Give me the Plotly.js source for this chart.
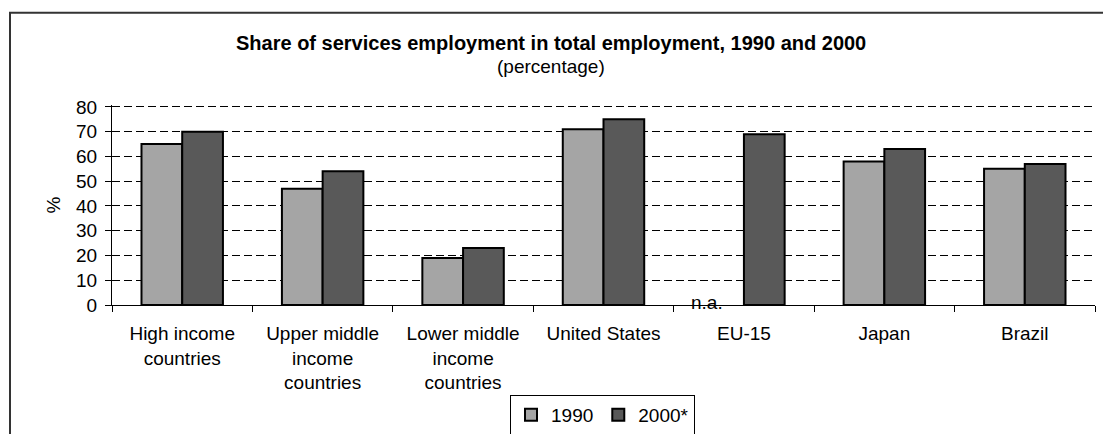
<!DOCTYPE html>
<html>
<head>
<meta charset="utf-8">
<script src="https://cdn.plot.ly/plotly-3.0.1.min.js"></script>
<style>html,body{margin:0;padding:0;background:#fff;}#chart{width:1103px;height:434px;}</style>
</head>
<body>
<div id="chart"></div>
<script>
const categories = [
  "High income<br>countries",
  "Upper middle<br>income<br>countries",
  "Lower middle<br>income<br>countries",
  "United States",
  "EU-15",
  "Japan",
  "Brazil"
];
const values1990 = [65, 47, 19, 71, null, 58, 55];
const values2000 = [70, 54, 23, 75, 69, 63, 57];
const seriesNames = ["1990", "2000*"];
const yTicks = [0, 10, 20, 30, 40, 50, 60, 70, 80];
const chartTitle = "Share of services employment in total employment, 1990 and 2000";
const chartSubtitle = "(percentage)";
const naLabel = "n.a.";

const font = "Arial, 'Liberation Sans', sans-serif";
const FS = 19;
const MT = 104.7, MB = 128.5, ML = 112, MR = 8;
const PH = 434 - MT - MB;       // plot height in px
const PW = 1103 - ML - MR;      // plot width in px
const py = (pix) => 1 + (MT - pix) / PH;   // page pixel row -> paper y
const px = (pix) => (pix - ML) / PW;       // page pixel col -> paper x

const traces = [
  {type: "bar", name: seriesNames[0], x: categories, y: values1990,
   marker: {color: "#A5A5A5", line: {color: "#000", width: 2}}},
  {type: "bar", name: seriesNames[1], x: categories, y: values2000,
   marker: {color: "#595959", line: {color: "#000", width: 2}}}
];

const layout = {
  width: 1103, height: 434,
  margin: {l: ML, r: MR, t: MT, b: MB},
  paper_bgcolor: "#fff", plot_bgcolor: "#fff",
  font: {family: font, size: FS, color: "#000"},
  barmode: "group", bargap: 0.42, bargroupgap: 0,
  showlegend: true,
  legend: {orientation: "h", xref: "container", yref: "container",
           x: 602.5 / 1103, xanchor: "center", y: 1 - 395 / 434, yanchor: "top",
           bordercolor: "#000", borderwidth: 1, bgcolor: "#fff",
           font: {family: font, size: FS}, traceorder: "normal",
           itemwidth: 30, tracegroupgap: 0},
  xaxis: {type: "category", tickson: "boundaries", ticks: "outside", ticklen: 6,
          tickcolor: "#000", showline: true, linecolor: "#000", linewidth: 1,
          showgrid: false, tickfont: {family: font, size: FS}, tickangle: 0,
          ticklabelstandoff: 11, automargin: false, fixedrange: true},
  yaxis: {range: [0, 80.8], tickvals: yTicks, ticks: "outside", ticklen: 6, tickcolor: "#000",
          showline: true, linecolor: "#000", linewidth: 1,
          showgrid: true, gridcolor: "#000", gridwidth: 1, griddash: "8px,4px",
          zeroline: false, tickfont: {family: font, size: FS}, ticklabelstandoff: 4,
          title: {text: "%", font: {family: font, size: FS}, standoff: 10},
          automargin: false, fixedrange: true},
  annotations: [
    {xref: "paper", yref: "paper", x: px(551), y: py(42), yanchor: "middle",
     text: "<b>" + chartTitle + "</b>", showarrow: false, font: {family: font, size: 20}},
    {xref: "paper", yref: "paper", x: px(551), y: py(66), yanchor: "middle",
     text: chartSubtitle, showarrow: false, font: {family: font, size: FS}},
    {xref: "x", yref: "y", x: categories[4], y: 0, yanchor: "bottom", xshift: -37, yshift: -10,
     text: naLabel, showarrow: false, font: {family: font, size: FS}}
  ],
  shapes: [
    {type: "path", xref: "paper", yref: "paper",
     path: "M " + px(10) + "," + py(500) + " L " + px(10) + "," + py(12) + " L " + px(1200) + "," + py(12),
     line: {color: "#333", width: 2}}
  ]
};

Plotly.newPlot("chart", traces, layout, {displayModeBar: false, staticPlot: true});
</script>
</body>
</html>
